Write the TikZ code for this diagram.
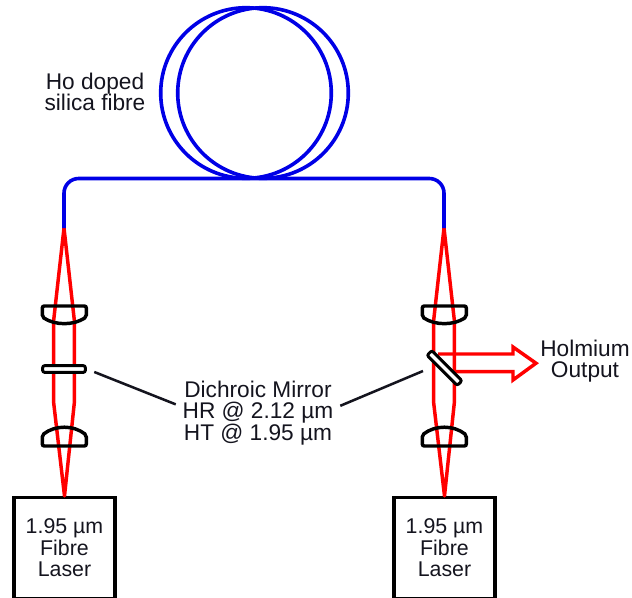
\documentclass[tikz,border=0pt]{standalone}
\usepackage{xcolor}
\usepackage{fontspec}
\setmainfont{Liberation Sans}
\usetikzlibrary{positioning, calc, arrows.meta}
\definecolor{hoBlue}{RGB}{0, 0, 230}
\definecolor{hoRed}{RGB}{255, 0, 0}
\definecolor{hoInk}{RGB}{20, 20, 30}
\tikzset{
    base/.style={
        font=\fontsize{17}{16.1}\selectfont,
        text=hoInk,
        align=center
    },
    fibre/.style={
        draw=hoBlue,
        line width=2.7pt
    },
    beam/.style={
        draw=hoRed,
        line width=2.6pt,
        line join=round
    },
    output/.style={
        draw=hoRed,
        line width=2.6pt,
        line join=miter
    },
    lens/.style={
        draw=black,
        line width=2.6pt,
        rounded corners=1.5pt
    },
    mirror/.style={
        rectangle,
        draw=black,
        fill=white,
        line width=2.2pt,
        rounded corners=1.5pt,
        inner sep=0pt,
        minimum width=32pt,
        minimum height=5pt
    },
    laser/.style={
        base,
        font=\fontsize{16}{16.1}\selectfont,
        rectangle,
        draw=black,
        line width=2.6pt,
        minimum width=75.5pt,
        minimum height=75.5pt,
        inner sep=0pt
    },
    leader/.style={
        draw=hoInk,
        line width=1.9pt
    }
}

\begin{document}
\begin{tikzpicture}[x=0.75pt, y=-0.75pt]
    \path[use as bounding box, clip] (0,0) rectangle (632,597);

    % Lasers at the bottom
    \node[laser] (laserL) at (64.5,548) {1.95 µm\\Fibre\\Laser};
    \node[laser] (laserR) at (444.5,548) {1.95 µm\\Fibre\\Laser};

    % Fibre ends
    \coordinate (endL) at (64,228);
    \coordinate (endR) at (444,228);

    % Pump and signal beams
    \foreach \cx/\nm in {64/L, 444/R} {
        \draw[beam] (end\nm) -- (\cx-10.3,320) -- (\cx-10.3,403) -- (laser\nm.north)
            -- (\cx+10.3,403) -- (\cx+10.3,320) -- cycle;
    }

    % Output arrow
    \draw[output] (438,354) -- (513,354) -- (513,347) -- (536,363.2) -- (513,380)
        -- (513,371.7) -- (456,371.7);

    % Fibre coil
    \draw[fibre] (246,93) circle (85.3);
    \draw[fibre] (263,93) circle (85.3);
    \draw[fibre, rounded corners=11pt] (endL) -- (64,178.5) -- (444,178.5) -- (endR);

    % Lenses
    \foreach \cx in {64.3, 444.3} {
        \draw[lens] (\cx-22,306) -- (\cx+22,306) -- (\cx+22,317)
            .. controls (\cx+9,325.5) and (\cx-9,325.5) .. (\cx-22,317) -- cycle;
        \draw[lens] (\cx-22,446) -- (\cx+22,446) -- (\cx+22,435)
            .. controls (\cx+9,425) and (\cx-9,425) .. (\cx-22,435) -- cycle;
    }

    % Mirrors
    \node[mirror] (mirrorL) at (64,369) {};
    \node[mirror, rotate=-45] (mirrorR) at (444.5,368) {};

    % Labels
    \node[base] (fibretext) at (95,92) {Ho doped\\silica fibre};
    \node[base, inner xsep=5pt] (mirrortext) at (258,413) {Dichroic Mirror\\HR @ 2.12 µm\\HT @ 1.95 µm};
    \node[base] (outtext) at (585,361) {Holmium\\Output};

    % Leader lines
    \coordinate (leadR) at (423,371);
    \draw[leader, shorten <=6pt] (mirrorL.east) -- (mirrortext.174.4);
    \draw[leader] (leadR) -- (mirrortext.5.6);
\end{tikzpicture}
\end{document}
